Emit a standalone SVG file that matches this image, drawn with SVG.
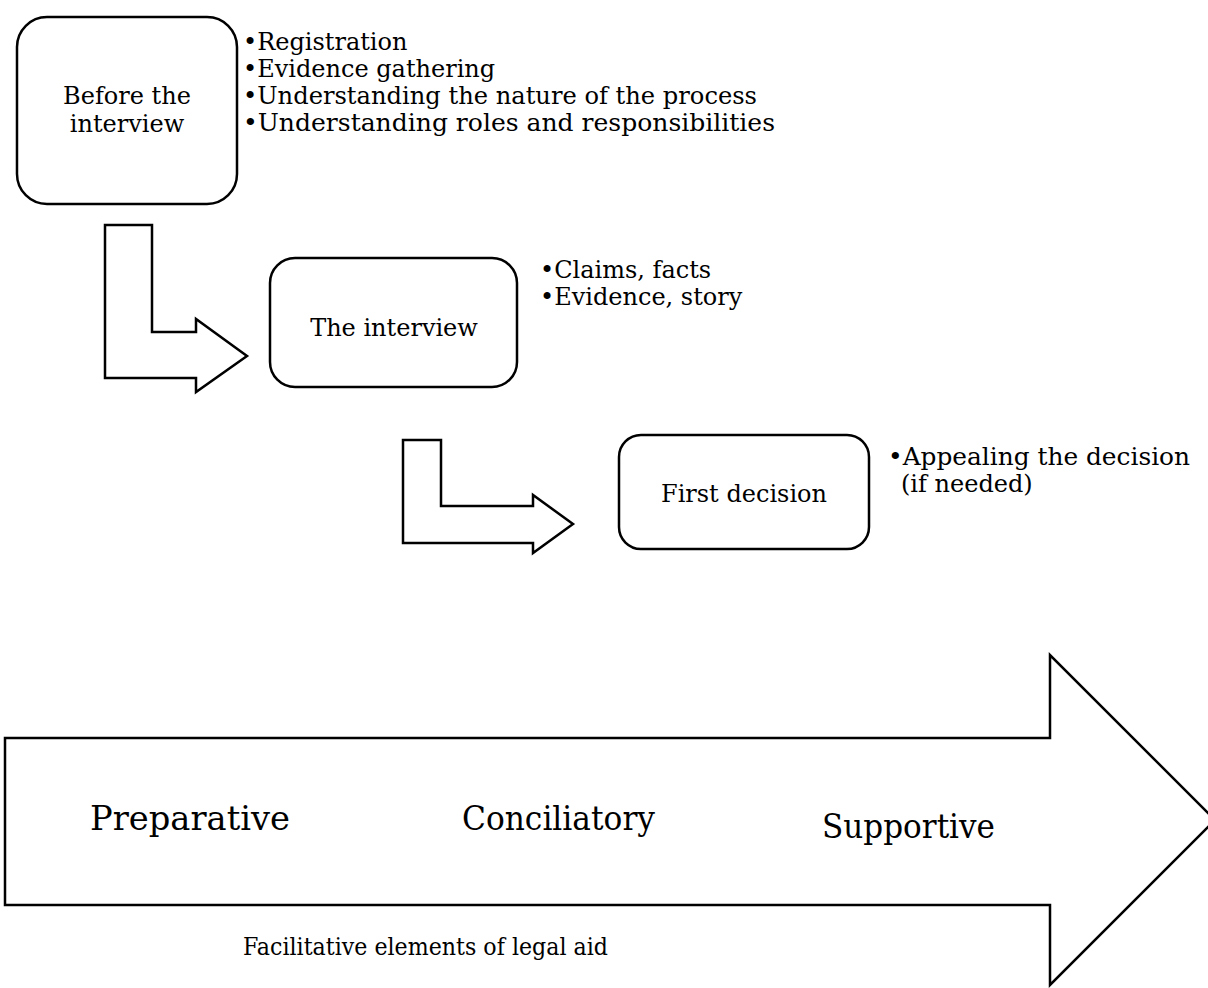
<svg xmlns="http://www.w3.org/2000/svg" width="1208" height="988" viewBox="0 0 1208 988">
<style>
.box{fill:#fff;stroke:#000;stroke-width:2.5}
.arr{fill:#fff;stroke:#000;stroke-width:2.5;stroke-linejoin:miter}
text{font-family:"DejaVu Serif","Liberation Serif",serif;fill:#000}
.t{font-size:24px}
.b{font-size:24px}
.big{font-size:33px}
.cap{font-size:25px}
</style>
<rect width="1208" height="988" fill="#fff"/>
<g id="connectors">
<polygon class="arr" points="105,225 152,225 152,332 196,332 196,319 247,356 196,392 196,378 105,378"/>
<polygon class="arr" points="403,440 441,440 441,506 533,506 533,495 573,524 533,553 533,543 403,543"/>
</g>
<g id="node-before">
<rect class="box" x="17" y="17" width="220" height="187" rx="30"/>
<text class="t" x="127" y="104" text-anchor="middle">Before the</text>
<text class="t" x="127" y="132" text-anchor="middle">interview</text>
</g>
<g id="list-before">
<text class="b" x="243" y="50">•Registration</text>
<text class="b" x="243" y="77">•Evidence gathering</text>
<text class="b" x="243" y="104" textLength="514" lengthAdjust="spacingAndGlyphs">•Understanding the nature of the process</text>
<text class="b" x="243" y="131" textLength="532" lengthAdjust="spacingAndGlyphs">•Understanding roles and responsibilities</text>
</g>
<g id="node-interview">
<rect class="box" x="270" y="258" width="247" height="129" rx="25"/>
<text class="t" x="394" y="336" text-anchor="middle">The interview</text>
</g>
<g id="list-interview">
<text class="b" x="540" y="278">•Claims, facts</text>
<text class="b" x="540" y="305">•Evidence, story</text>
</g>
<g id="node-decision">
<rect class="box" x="619" y="435" width="250" height="114" rx="22"/>
<text class="t" x="744" y="502" text-anchor="middle">First decision</text>
</g>
<g id="list-decision">
<text class="b" x="888" y="465" textLength="302" lengthAdjust="spacingAndGlyphs">•Appealing the decision</text>
<text class="b" x="901" y="492">(if needed)</text>
</g>
<g id="node-facilitative">
<polygon class="arr" points="5,738 1050,738 1050,655 1215,820 1050,985 1050,905 5,905"/>
<text class="big" x="90" y="830" textLength="200" lengthAdjust="spacingAndGlyphs">Preparative</text>
<text class="big" x="462" y="830" textLength="193" lengthAdjust="spacingAndGlyphs">Conciliatory</text>
<text class="big" x="822" y="838" textLength="173" lengthAdjust="spacingAndGlyphs">Supportive</text>
<text class="cap" x="243" y="955" textLength="365" lengthAdjust="spacingAndGlyphs">Facilitative elements of legal aid</text>
</g>
</svg>
